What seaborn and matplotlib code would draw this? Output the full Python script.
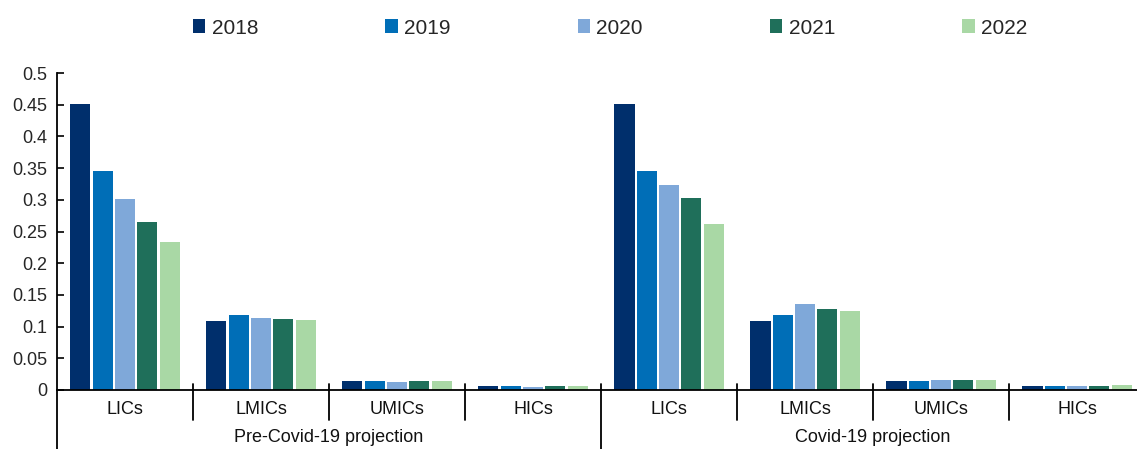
import numpy as np
import pandas as pd
import matplotlib
matplotlib.use("Agg")
import matplotlib.pyplot as plt
import matplotlib.transforms as mtransforms
from matplotlib.patches import Patch
import seaborn as sns

# Data
years = ["2018", "2019", "2020", "2021", "2022"]
income_groups = ["LICs", "LMICs", "UMICs", "HICs"]
scenarios = ["Pre-Covid-19 projection", "Covid-19 projection"]

pre_lics = [0.451, 0.345, 0.301, 0.265, 0.233]
pre_lmics = [0.109, 0.118, 0.114, 0.112, 0.110]
pre_umics = [0.014, 0.014, 0.013, 0.014, 0.014]
pre_hics = [0.006, 0.006, 0.005, 0.006, 0.007]

covid_lics = [0.451, 0.345, 0.323, 0.303, 0.262]
covid_lmics = [0.109, 0.118, 0.136, 0.128, 0.125]
covid_umics = [0.014, 0.014, 0.016, 0.015, 0.015]
covid_hics = [0.006, 0.006, 0.007, 0.007, 0.008]

colors = ["#002F6C", "#006EB7", "#7FA8D9", "#1F6F5A", "#A9D8A5"]

series = {
    ("Pre-Covid-19 projection", "LICs"): pre_lics,
    ("Pre-Covid-19 projection", "LMICs"): pre_lmics,
    ("Pre-Covid-19 projection", "UMICs"): pre_umics,
    ("Pre-Covid-19 projection", "HICs"): pre_hics,
    ("Covid-19 projection", "LICs"): covid_lics,
    ("Covid-19 projection", "LMICs"): covid_lmics,
    ("Covid-19 projection", "UMICs"): covid_umics,
    ("Covid-19 projection", "HICs"): covid_hics,
}

rows = []
order = []
for sc in scenarios:
    for g in income_groups:
        key = f"{g} | {sc}"
        order.append(key)
        for y, v in zip(years, series[(sc, g)]):
            rows.append({"key": key, "year": y, "value": v})
df = pd.DataFrame(rows)

sns.set_theme(style="white")
plt.rcParams["font.family"] = ["Liberation Sans", "DejaVu Sans"]

fig = plt.figure(figsize=(11.37, 4.49), dpi=100)
ax = fig.add_axes([57 / 1137, 1 - 390 / 449, 1 - 57 / 1137, (390 - 73) / 449])

sns.barplot(data=df, x="key", y="value", hue="year", order=order,
            hue_order=years, palette=colors, width=0.82, gap=0.1,
            linewidth=0, saturation=1, errorbar=None, ax=ax, legend=False)

ax.set_ylim(0, 0.5)
ax.set_xlim(-0.5, 7.44)
ax.set_yticks(np.arange(0, 0.51, 0.05))
ax.set_yticklabels(["0"] + [f"{t:g}" for t in np.arange(0.05, 0.51, 0.05)])
ax.tick_params(axis="y", direction="in", length=5, width=1.2, color="black",
               labelsize=13, pad=7, left=True)
ax.set_xticks([])
ax.set_xlabel("")
ax.set_ylabel("")

for side in ["top", "right"]:
    ax.spines[side].set_visible(False)
for side in ["left", "bottom"]:
    ax.spines[side].set_color("black")
    ax.spines[side].set_linewidth(1.3)

trans = mtransforms.blended_transform_factory(ax.transData, ax.transAxes)
h_ax = 317.0
# group separators
for i in range(8):
    xs = i - 0.5
    if i == 0:
        ax.plot([xs, xs], [0, -59 / h_ax], transform=trans, color="black",
                lw=1.3, clip_on=False)
    elif i == 4:
        ax.plot([xs, xs], [6 / h_ax, -59 / h_ax], transform=trans,
                color="black", lw=1.3, clip_on=False)
    else:
        ax.plot([xs, xs], [6 / h_ax, -30 / h_ax], transform=trans,
                color="black", lw=1.3, clip_on=False)

# category labels
for i, key in enumerate(order):
    ax.text(i, -19 / h_ax, key.split(" | ")[0], transform=trans,
            ha="center", va="center", fontsize=13, color="#111111")
for j, sc in enumerate(scenarios):
    ax.text(1.5 + 4 * j, -48 / h_ax, sc, transform=trans, ha="center",
            va="center", fontsize=13, color="#111111")

handles = [Patch(facecolor=c, edgecolor="none", label=y)
           for c, y in zip(colors, years)]
fig.legend(handles=handles, loc="center", bbox_to_anchor=(610 / 1137, 1 - 28 / 449),
           ncol=5, frameon=False, fontsize=15, handlelength=0.6,
           handleheight=0.65, handletextpad=0.3, columnspacing=6.1)

fig.savefig("out.png", dpi=100)
